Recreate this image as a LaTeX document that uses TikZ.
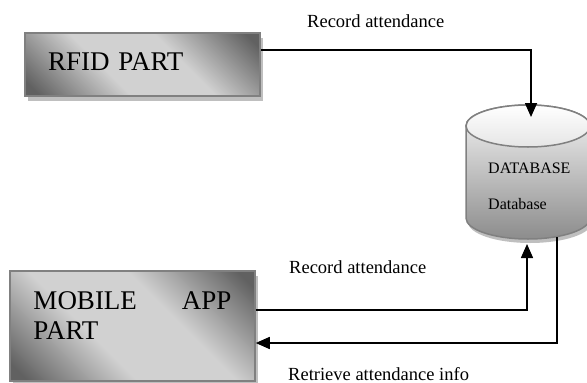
\documentclass[tikz,border=0pt]{standalone}
\usepackage{fontspec}
\setmainfont{Liberation Serif}
\usetikzlibrary{arrows.meta, shadows}
\pgfdeclareverticalshading{partshade}{100bp}{color(0bp)=(black!62); color(18bp)=(black!62); color(40bp)=(black!18); color(60bp)=(black!18); color(82bp)=(black!62); color(100bp)=(black!62)}

\begin{document}
\begin{tikzpicture}[
        x=1pt, y=-1pt,
        part/.style={draw=black!50, line width=1.5pt, shading=partshade, shading angle=-45, drop shadow={shadow xshift=3pt, shadow yshift=-5pt, fill=black!25, opacity=1}, align=left, font=\fontsize{27}{30}\selectfont},
        flow/.style={line width=1.6pt, -{Triangle[length=14pt, width=12pt]}},
        lbl/.style={font=\fontsize{18.5}{22}\selectfont, inner sep=0pt, anchor=base west},
        dbtext/.style={font=\fontsize{16}{19}\selectfont, inner sep=0pt, anchor=base west},
    ]
        \useasboundingbox (0,0) rectangle (587,383);
        \clip (0,0) rectangle (587,383);

        % Define Part Nodes
        \node[part, minimum width=235pt, minimum height=63pt, inner xsep=23pt, text width=189pt, text depth=5pt] (rfid) at (142.5,64.5) {RFID PART};
        \node[part, minimum width=245pt, minimum height=110pt, inner xsep=22pt, text width=198pt, text depth=50pt] (mobile) at (132.5,326) {MOBILE\hfill APP\\PART};

        % Define Database Cylinder (shadow, body, top)
        \fill[black!25, xshift=2pt, yshift=-4pt] (466,126) -- (466,218) arc[start angle=180, end angle=360, x radius=62pt, y radius=21pt] -- (590,126) -- cycle;
        \path[draw=black!50, line width=1.5pt, top color=black!4, bottom color=black!45] (466,126) -- (466,218) arc[start angle=180, end angle=360, x radius=62pt, y radius=21pt] -- (590,126) arc[start angle=0, end angle=180, x radius=62pt, y radius=21pt] -- cycle;
        \path[draw=black!50, line width=1.5pt, top color=white, bottom color=black!10] (528,126) ellipse[x radius=62pt, y radius=21pt];
        \node[dbtext] (db) at (488,173) {DATABASE};
        \node[dbtext] (dbname) at (488,209) {Database};

        % Connector ends on the cylinder
        \coordinate (dbtop) at (531,117);
        \coordinate (dbin) at (527,244);
        \coordinate (dbout) at (557,237);

        % Draw Edges (Part <-> Database)
        \draw[flow] ([yshift=14.5pt]rfid.east) -| (dbtop);
        \draw[flow] ([yshift=16pt]mobile.east) -| (dbin);
        \draw[flow] (dbout) |- ([yshift=-17pt]mobile.east);

        % Edge labels
        \node[lbl] (rec1) at (307,27) {Record attendance};
        \node[lbl] (rec2) at (289,273) {Record attendance};
        \node[lbl] (ret) at (288,380) {Retrieve attendance info};
    \end{tikzpicture}
\end{document}
